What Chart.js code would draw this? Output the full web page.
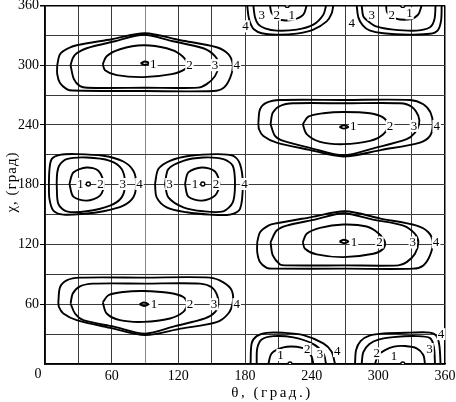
<!DOCTYPE html>
<html><head><meta charset="utf-8">
<script src="https://cdn.jsdelivr.net/npm/chart.js@4"></script>
<style>html,body{margin:0;padding:0;background:#fff}</style>
</head><body>
<canvas id="c" width="456" height="402"></canvas>
<script>
// ---- axis tick labels ----
const xTickValues = [60, 120, 180, 240, 300, 360];
const yTickValues = [60, 120, 180, 240, 300, 360];
const cornerLabel = '0';
const xTitle = 'θ, (град.)';
const yTitle = 'χ, (град)';

// ---- contour lines: [θ, χ] in degrees ----
// island around (90, 300)
const a4 = [[11,300],[13.5,311],[21,317],[28.5,320],[60,326],[90,332],[122,325],[154.5,318],[165,311],[169,300],[166.5,287],[160.5,277],[151.5,274],[90,274],[25,274.5],[19.5,276],[13.5,282],[11,291],[11,300]];
const a3 = [[23,300],[25,307],[28.5,312],[37.5,317],[63,324],[89,330.5],[115,324],[142.5,317],[153,309],[156,300],[153,289],[145.5,281],[138,277.5],[90,277.3],[38,277.3],[31.5,279],[26,286],[23,300]];
const a2 = [[52,301],[55.5,309],[67.5,316],[88.5,320],[109.5,317],[121.5,311],[128,302],[126,296],[114,291],[88.5,288],[64.5,290],[54,295],[52,301]];
const a1 = [[86,302],[90,303.7],[94,302],[90,300.3],[86,302]];
// island around (90, 60)
const b4 = [[12,62],[13.5,77],[19.5,84],[31.5,86.7],[90,86.7],[148.5,86.7],[160.5,82],[168,74],[169,62],[165,50.7],[154.5,42],[122,35.5],[90,29],[60,36],[28.5,44],[16.5,50.7],[12.6,57],[12,62]];
const b3 = [[23,60.7],[25,70.7],[31.5,78],[43.5,80.7],[90,80.7],[139.5,80.7],[150,77],[155,69],[156,60.7],[153,52],[144,45.7],[117,38],[90,30.5],[62,37.5],[34.5,44],[27,50.7],[23,60.7]];
const b2 = [[52,61.7],[57,69],[70.5,72.3],[88.5,73.3],[112.5,71.3],[124.5,67.3],[128,60.7],[124.5,52.3],[112.5,45.7],[88.5,42.3],[67.5,44],[55.5,50.7],[52,61.7]];
const b1 = [[85,60],[89,61.7],[93,60],[89,58.3],[85,60]];
// island around (270, 240)
const c4 = [[192,242.3],[193.5,255.7],[199.5,262.3],[211.5,265],[270,265],[328.5,265],[340.5,260.7],[347,252.3],[349,240.7],[346.5,229],[337.5,222.3],[303,215],[268.5,208.3],[238,215],[208.5,222.3],[196.5,229],[192.6,235.7],[192,242.3]];
const c3 = [[203,240.7],[205,252.3],[211.5,259],[223.5,261.7],[270,261.7],[319.5,261.7],[330,258.3],[336,249],[336.6,240.7],[333,232.3],[325.5,225.7],[297,217],[268.5,209.5],[240,216.5],[214.5,224],[207,229],[203,240.7]];
const c2 = [[232,240.7],[237,248.3],[250.5,251.7],[268.5,253],[292.5,251.7],[304.5,247.3],[309,239.7],[304.5,230.7],[292.5,224],[268.5,220.7],[247.5,223],[235.5,230.7],[232,240.7]];
const c1 = [[265,238],[269,239.7],[273,238],[269,236.3],[265,238]];
// island around (270, 120)
const d4 = [[191,122.3],[193.5,132.3],[201,139],[208.5,141.3],[240,147.5],[270,153.3],[302,146],[334.5,139],[345,132.3],[349,122.3],[346.5,109],[340.5,99],[331.5,95.7],[270,95.7],[205,95.7],[199.5,96.5],[193.5,102.3],[191,112.3],[191,122.3]];
const d3 = [[203,122.3],[208.5,134],[217.5,139],[243,145],[268.5,151.3],[295,145],[322.5,139],[333,130.7],[336,122.3],[333,110.7],[325.5,102.3],[318,99],[270,99],[216,99],[211.5,100],[205,109],[203,122.3]];
const d2 = [[232,122.3],[235.5,130.7],[247.5,136.7],[268.5,140],[289.5,138],[300,131.3],[306,122.3],[304.5,115.7],[295.5,110.7],[268.5,107.3],[244.5,110],[234,115.7],[232,122.3]];
const d1 = [[265,123],[269,124.7],[273,123],[269,121.3],[265,123]];
// islands around (40, 180) and (140, 180)
const el4 = [[3.5,180.7],[4,195],[6,205.7],[13.5,210],[28.5,210.7],[52.5,209],[70.5,203.3],[79.5,194],[82,180.7],[79.5,167.3],[70.5,159],[52.5,153.3],[34.5,150.7],[16.5,150],[7.5,154],[4,165.7],[3.5,180.7]];
const el3 = [[10.5,180.7],[11,192],[13,199.5],[19.5,205.7],[37.5,207.3],[58.5,204],[69,195.7],[72,180.7],[69,167.3],[58.5,159],[37.5,153.3],[19.5,153.3],[12,160.7],[10.5,180.7]];
const el2 = [[22,180.7],[25.5,192.3],[37.5,197.3],[48,194],[53,180.7],[49.5,169],[37.5,164],[25.5,168],[22,180.7]];
const er4 = [[99,180.7],[102,195.7],[112.5,204],[130.5,209],[154.5,210.7],[169.5,209],[175.5,200.7],[178,180.7],[175.5,155.7],[166.5,150],[148.5,150],[127.5,152.3],[109.5,157.3],[100.5,167.3],[99,180.7]];
const er3 = [[108,180.7],[111,195.7],[124.5,204],[142.5,207.3],[160.5,205.7],[169,199],[171,180.7],[169,162.3],[160.5,153.3],[142.5,153.3],[124.5,157.3],[111,167.3],[108,180.7]];
const er2 = [[126,180.7],[129,192.3],[141,197.3],[153,193.3],[157,180.7],[153,169],[141,164],[129,168],[126,180.7]];
// half islands on the bottom edge (χ = 0)
const bl4 = [[185,0],[186,20.7],[190.5,28],[199.5,31.3],[214.5,31.3],[232.5,29],[250.5,20.7],[258,12.3],[261,0]];
const bl3 = [[190.5,0],[191,15.7],[195,24.7],[205.5,28],[223.5,26.7],[241.5,20],[250.5,10.7],[253,0]];
const bl2 = [[201,0],[204,10.7],[214.5,16.7],[226.5,17.3],[235.5,14],[240,7.3],[241.5,0]];
const br4 = [[279,0],[280,14],[284,23],[292,28.5],[305,30.7],[328.5,31.5],[346.5,31.5],[352.5,28],[355,18],[356,0]];
const br3 = [[285,0],[286.5,12],[292,20],[300,24.5],[313.5,27],[334.5,28],[346.5,26],[350,17],[351,0]];
const br2 = [[297,0],[300,9],[306,14],[314,17.5],[324,18],[334.5,15.7],[340.5,9],[342,0]];
// half islands on the top edge (χ = 360)
const tl4 = [[182,360],[183,350],[184.5,343],[188,336],[195,332],[208.5,330.7],[226.5,331.7],[241.5,335.7],[253.5,344],[258,352],[259.5,360]];
const tl3 = [[187.5,360],[189,348],[192,341],[198,337],[208.5,334.7],[226.5,335.7],[241.5,340.7],[250.5,350.7],[253,360]];
const tl2 = [[202.5,360],[204,352.3],[211.5,345.7],[223.5,345.7],[232.5,350.7],[235.5,360]];
const tr4 = [[280.5,360],[282,348],[286,340],[292,335],[304.5,332],[328.5,330.7],[346.5,331.5],[353.5,335],[356.5,345],[357,360]];
const tr3 = [[285,360],[286.5,349],[291,344],[298,339],[313.5,335.7],[334.5,334.7],[346.5,338],[350.5,346],[351.5,360]];
const tr2 = [[307,360],[308,353],[315,347],[328.5,346],[336,351],[339,360]];
// centre points (level 1) that are only dots
const centreDots = [[39,180.7],[142,180.7],[220.5,0],[322,0],[218,360],[322,360]];

// contour level labels: [text, θ, χ]
const levelLabels = [
  ['1',97.5,301],['2',130,300],['3',153,300],['4',172.5,300],
  ['1',98,60],['2',130.5,60],['3',152,60],['4',172.5,60],
  ['1',277.5,238.5],['2',310.5,239],['3',332,239],['4',352.5,239],
  ['1',278,122],['2',301,122],['3',331,122],['4',352,122],
  ['1',32,180.7],['2',50,180.7],['3',70,180.7],['4',85,180.7],
  ['3',112,180.7],['1',135,180.7],['2',154,180.7],['4',179.5,180.7],
  ['1',212,9],['2',236,15],['3',247.5,10],['4',263,13],
  ['2',298.5,10.7],['1',314,8],['3',346,15],['4',356.5,30],
  ['4',180.5,339],['3',195,350.7],['2',208.5,350.7],['1',222,350.7],
  ['4',276,342],['3',294,350.7],['2',312,350.7],['1',328,352]
];

const contourLines = [a4,a3,a2,a1,b4,b3,b2,b1,c4,c3,c2,c1,d4,d3,d2,d1,el4,el3,el2,er4,er3,er2,bl4,bl3,bl2,br4,br3,br2,tl4,tl3,tl2,tr4,tr3,tr2];

const FONT = 'Liberation Serif, Times New Roman, serif';

const datasets = contourLines.map(arr => ({
  data: arr.map(([x, y]) => ({x, y})),
  showLine: true,
  pointRadius: 0,
  borderColor: '#000',
  borderWidth: 1.9,
  tension: 0.3,
  fill: false
}));
datasets.push({
  data: centreDots.map(([x, y]) => ({x, y})),
  showLine: false,
  pointRadius: 2,
  pointBorderWidth: 1.4,
  pointBorderColor: '#000',
  pointBackgroundColor: '#fff'
});

const textPlugin = {
  id: 'texts',
  afterDatasetsDraw(chart) {
    const ctx = chart.ctx, sx = chart.scales.x, sy = chart.scales.y;
    ctx.save();
    ctx.font = '13px ' + FONT;
    ctx.textAlign = 'center';
    ctx.textBaseline = 'middle';
    for (const [t, x, y] of levelLabels) {
      const px = sx.getPixelForValue(x), py = sy.getPixelForValue(y);
      const w = ctx.measureText(t).width;
      ctx.fillStyle = '#fff';
      ctx.fillRect(px - w / 2 - 1, py - 6, w + 2, 12);
      ctx.fillStyle = '#000';
      ctx.fillText(t, px, py + 0.5);
    }
    ctx.restore();
  },
  afterDraw(chart) {
    const ctx = chart.ctx, a = chart.chartArea;
    ctx.save();
    ctx.fillStyle = '#000';
    ctx.textAlign = 'center';
    ctx.textBaseline = 'middle';
    ctx.font = '14px ' + FONT;
    ctx.fillText(cornerLabel, a.left - 7, a.bottom + 10);
    ctx.font = '15px ' + FONT;
    ctx.letterSpacing = '2.5px';
    ctx.fillText(xTitle, 272, 393);
    ctx.letterSpacing = '1px';
    ctx.translate(12, 182);
    ctx.rotate(-Math.PI / 2);
    ctx.fillText(yTitle, 0, 0);
    ctx.restore();
  }
};

new Chart(document.getElementById('c'), {
  type: 'scatter',
  data: { datasets },
  plugins: [textPlugin],
  options: {
    responsive: false,
    animation: false,
    devicePixelRatio: 1,
    layout: { padding: { left: 0, top: 5, right: 11, bottom: 0 } },
    plugins: { legend: { display: false }, tooltip: { enabled: false } },
    scales: {
      x: {
        type: 'linear', min: 0, max: 360,
        ticks: {
          stepSize: 30, autoSkip: false, maxRotation: 0, padding: 4, color: '#000',
          font: { family: FONT, size: 14 },
          callback: v => xTickValues.includes(v) ? String(v) : ''
        },
        grid: {
          drawTicks: false,
          color: c => (c.tick && c.tick.value === 360) ? '#000' : (c.tick && c.tick.value === 90 ? '#8a8a8a' : '#3a3a3a'),
          lineWidth: c => (c.tick && c.tick.value === 360) ? 1.5 : 1
        },
        border: { color: '#000', width: 1.5 },
        afterFit: s => { s.height = 38; s.paddingLeft = 0; s.paddingRight = 0; }
      },
      y: {
        type: 'linear', min: 0, max: 360,
        ticks: {
          stepSize: 30, autoSkip: false, padding: 1, color: '#000',
          font: { family: FONT, size: 14 },
          callback: v => yTickValues.includes(v) ? String(v) : ''
        },
        grid: {
          drawTicks: true, tickLength: 5,
          tickColor: c => yTickValues.includes(c.tick.value) ? '#000' : 'rgba(0,0,0,0)',
          color: c => (c.tick && c.tick.value === 360) ? '#000' : '#3a3a3a',
          lineWidth: c => (c.tick && c.tick.value === 360) ? 1.5 : 1
        },
        border: { color: '#000', width: 1.5 },
        afterFit: s => { s.width = 45; s.paddingTop = 0; s.paddingBottom = 0; }
      }
    }
  }
});
</script>
</body></html>
